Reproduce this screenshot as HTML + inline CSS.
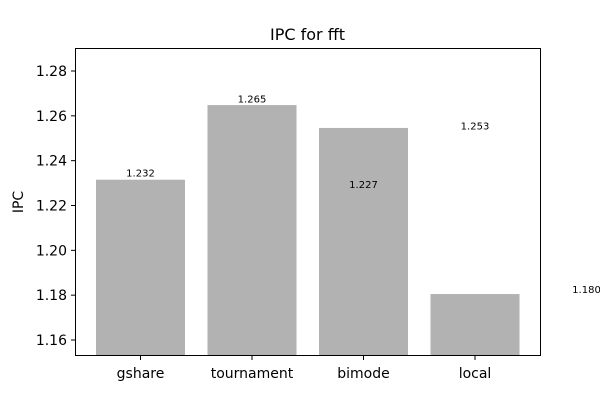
<!DOCTYPE html>
<html><head><meta charset="utf-8"><style>
body{margin:0;background:#fff;font-family:"Liberation Sans","DejaVu Sans",sans-serif}
</style></head><body>
<svg id="chart" width="600" height="400" xmlns="http://www.w3.org/2000/svg" font-family="DejaVu Sans, Liberation Sans, sans-serif">
<rect width="600" height="400" fill="#fff"/>
<text x="307.5" y="40" text-anchor="middle" font-size="16">IPC for fft</text>
<text transform="translate(23,202) rotate(-90)" text-anchor="middle" font-size="14">IPC</text>
<g id="bars"></g><g id="labels"></g><g id="yticks"></g><g id="xticks"></g>
<rect x="75.5" y="48.5" width="465" height="307" fill="none" stroke="#000" stroke-width="1"/>
</svg>
<script>
const categories = ["gshare","tournament","bimode","local"];
const ipcValues = [1.2315, 1.2648, 1.2546, 1.1805];
const labelTexts = ["1.232","1.265","1.227","1.253","1.180"];
const labelValues = [1.232,1.265,1.227,1.253,1.180];
const yTicks = [1.16,1.18,1.20,1.22,1.24,1.26,1.28];
const NS="http://www.w3.org/2000/svg";
const yMin=1.16, yPx0=340, pxPer=2241.7, yBottom=356;
function y(v){return yPx0-(v-yMin)*pxPer;}
function xc(i){return 140.5+i*111.5;}
const bw=89;
function mk(tag,attrs,parent){const e=document.createElementNS(NS,tag);for(const k in attrs)e.setAttribute(k,attrs[k]);document.getElementById(parent).appendChild(e);return e;}
ipcValues.forEach((v,i)=>{
  const r=mk('rect',{x:xc(i)-bw/2,y:y(v),width:bw,height:yBottom-y(v),fill:'#b2b2b2'},'bars');
  
  
  const t=mk('text',{x:xc(i),y:yBottom+22,'text-anchor':'middle','font-size':'14'},'xticks');
  t.textContent=categories[i];
  
  
  mk('line',{x1:xc(i),x2:xc(i),y1:yBottom,y2:yBottom+4,stroke:'#000'},'xticks');
});
labelValues.forEach((v,i)=>{
  const t=mk('text',{x:xc(i),y:y(v)-2,'text-anchor':'middle','font-size':'10'},'labels');
  t.textContent=labelTexts[i];
  
  
});
yTicks.forEach(v=>{
  mk('line',{x1:71,x2:75,y1:y(v),y2:y(v),stroke:'#000'},'yticks');
  const t=mk('text',{x:67,y:y(v)+5,'text-anchor':'end','font-size':'14'},'yticks');
  t.textContent=v.toFixed(2);
  
  
});
</script>
</body></html>
